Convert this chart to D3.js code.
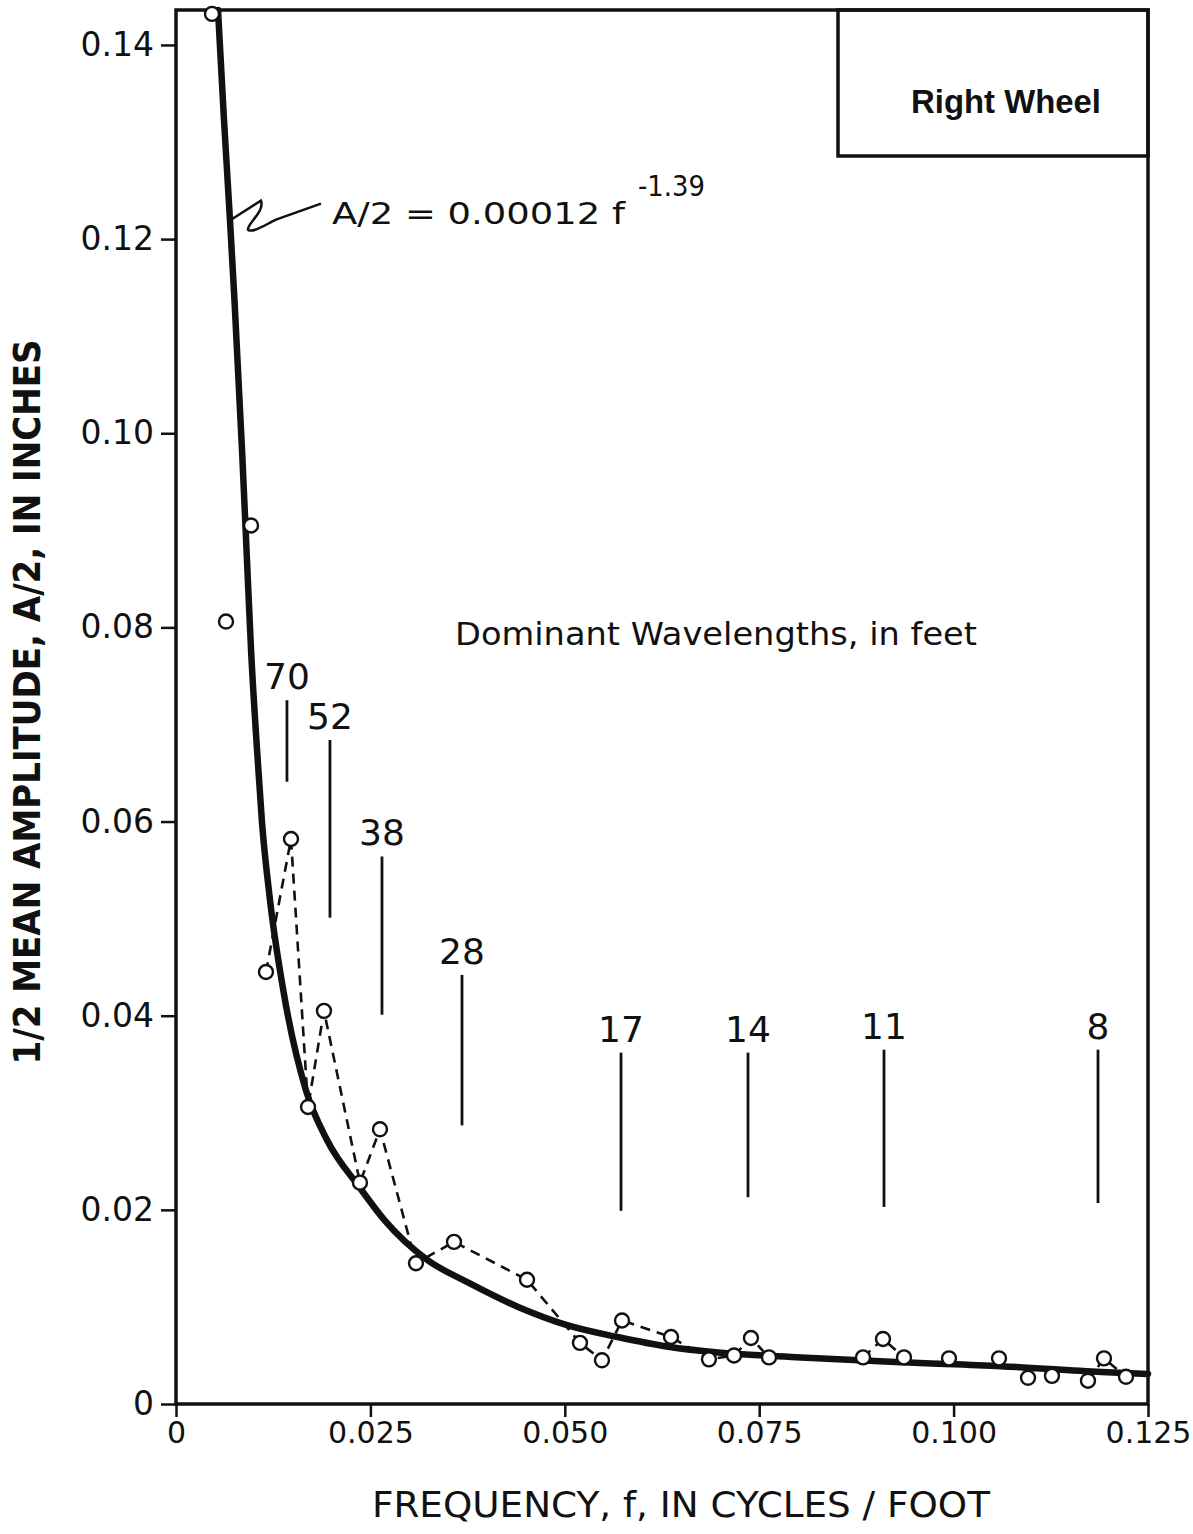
<!DOCTYPE html>
<html>
<head>
<meta charset="utf-8">
<script src="https://cdn.jsdelivr.net/npm/d3@7"></script>
<style>
  body { margin:0; background:#fff; }
  svg { display:block; }
  text { fill:#111; }
</style>
</head>
<body>
<div id="chart"></div>
<script>
// measured points (frequency in cycles/foot, half amplitude in inches)
var freq = [0.00463,0.00643,0.00965,0.01157,0.01479,0.01698,0.01903,0.02366,0.02623,0.03086,
            0.03575,0.04514,0.05195,0.05478,0.05736,0.06366,0.06854,0.07176,0.07394,0.07626,
            0.08835,0.09092,0.09362,0.09941,0.10584,0.10957,0.11265,0.11728,0.11934,0.12217];
var amp  = [0.1432,0.0806,0.0905,0.0445,0.0582,0.0306,0.0405,0.0228,0.0283,0.0145,
            0.0167,0.0128,0.0063,0.0045,0.0086,0.0069,0.0046,0.0050,0.0068,0.0048,
            0.0048,0.0067,0.0048,0.0047,0.0047,0.0027,0.0029,0.0024,0.0047,0.0028];
// index runs joined by the dashed trace
var traceRuns = [[3,19],[20,22],[27,29]];

// fitted curve A/2 = 0.00012 f^-1.39
var fitF = [0.0054,0.00617,0.00694,0.00752,0.00849,0.00913,0.00965,0.01042,0.01106,0.01209,
            0.01402,0.01672,0.01942,0.02353,0.02675,0.0324,0.0376,0.0440,0.0504,0.0568,
            0.0633,0.0697,0.0804,0.0932,0.1061,0.1190,0.125];
var fitA = [0.1436,0.1323,0.1220,0.1137,0.0983,0.0869,0.0777,0.0674,0.0599,0.0519,
            0.0416,0.0323,0.0272,0.0224,0.0190,0.0148,0.0125,0.0100,0.0081,0.0069,
            0.0059,0.0053,0.0048,0.0043,0.0039,0.0033,0.0031];

// dominant wavelength markers
var wlLabels = ["70","52","38","28","17","14","11","8"];
var wlFreq   = [0.01427,0.01980,0.02649,0.03678,0.05723,0.07356,0.09105,0.11857];
var wlTop    = [0.0725,0.0684,0.0564,0.0442,0.0362,0.0362,0.0365,0.0365];
var wlBottom = [0.0641,0.0501,0.0401,0.0287,0.0199,0.0213,0.0203,0.0207];

var xTicks = [0,0.025,0.05,0.075,0.1,0.125];
var xTickLabels = ["0","0.025","0.050","0.075","0.100","0.125"];
var yTicks = [0,0.02,0.04,0.06,0.08,0.10,0.12,0.14];
var yTickLabels = ["0","0.02","0.04","0.06","0.08","0.10","0.12","0.14"];

var W = 1193, H = 1534;
var margin = {top:10, left:176, right:45, bottom:130};
var font = "'DejaVu Sans', sans-serif";

var svg = d3.select("#chart").append("svg").attr("width",W).attr("height",H);

var x = d3.scaleLinear().domain([0,0.125]).range([margin.left, W-margin.right]);
var y = d3.scaleLinear().domain([0,0.1436]).range([H-margin.bottom, margin.top]);

//axes
var gx = svg.append("g").attr("transform","translate(0,"+y(0)+")")
  .call(d3.axisBottom(x).tickValues(xTicks).tickFormat(function(d,i){ return xTickLabels[i]; })
    .tickSize(13).tickPadding(5));
var gy = svg.append("g").attr("transform","translate("+x(0)+",0)")
  .call(d3.axisLeft(y).tickValues(yTicks).tickFormat(function(d,i){ return yTickLabels[i]; })
    .tickSize(15).tickPadding(7));
[gx,gy].forEach(function(g){
  g.select(".domain").remove();
  g.selectAll("line").attr("stroke","#111").attr("stroke-width",2.5);
  g.selectAll("text").attr("font-family",font).attr("font-size",33).attr("fill","#111");
});
gx.selectAll("text").attr("font-size",30);

// frame
svg.append("rect").attr("x",x(0)).attr("y",y(0.1436))
  .attr("width",x(0.125)-x(0)).attr("height",y(0)-y(0.1436))
  .attr("fill","none").attr("stroke","#111").attr("stroke-width",3.5);

// legend box
var bx = x(0.125)-310, by = y(0.1436);
svg.append("rect").attr("x",bx).attr("y",by).attr("width",310).attr("height",146)
  .attr("fill","none").attr("stroke","#111").attr("stroke-width",3.5);
svg.append("text").attr("x",bx+168).attr("y",by+103).attr("text-anchor","middle")
  .attr("font-family","'Liberation Sans', Arial, sans-serif").attr("font-weight","bold")
  .attr("font-size",33).attr("textLength",190).attr("lengthAdjust","spacingAndGlyphs")
  .text("Right Wheel");

// wavelength markers
var wl = wlLabels.map(function(l,i){ return {label:l,f:wlFreq[i],top:wlTop[i],bot:wlBottom[i]}; });
svg.append("g").selectAll("line").data(wl).enter().append("line")
  .attr("x1",function(d){ return x(d.f); }).attr("x2",function(d){ return x(d.f); })
  .attr("y1",function(d){ return y(d.top); }).attr("y2",function(d){ return y(d.bot); })
  .attr("stroke","#111").attr("stroke-width",2.8);
svg.append("g").selectAll("text").data(wl).enter().append("text")
  .attr("x",function(d){ return x(d.f); }).attr("y",function(d){ return y(d.top)-11; })
  .attr("text-anchor","middle").attr("font-family",font).attr("font-size",36)
  .text(function(d){ return d.label; });

svg.append("text").attr("x",455).attr("y",645)
  .attr("font-family",font).attr("font-size",32)
  .attr("textLength",522).attr("lengthAdjust","spacingAndGlyphs")
  .text("Dominant Wavelengths, in feet");

// dashed trace between measured points
var pts = freq.map(function(f,i){ return {f:f,a:amp[i]}; });
var line = d3.line().x(function(d){ return x(d.f); }).y(function(d){ return y(d.a); });
traceRuns.forEach(function(r){
  svg.append("path").datum(pts.slice(r[0],r[1]+1)).attr("d",line)
    .attr("fill","none").attr("stroke","#111").attr("stroke-width",2.6)
    .attr("stroke-dasharray","10,7");
});

// fitted curve
var fit = fitF.map(function(f,i){ return {f:f,a:fitA[i]}; });
svg.append("path").datum(fit)
  .attr("d",d3.line().curve(d3.curveMonotoneX).x(function(d){ return x(d.f); }).y(function(d){ return y(d.a); }))
  .attr("fill","none").attr("stroke","#111").attr("stroke-width",6.5).attr("stroke-linecap","round");

// points
svg.append("g").selectAll("circle").data(pts).enter().append("circle")
  .attr("cx",function(d){ return x(d.f); }).attr("cy",function(d){ return y(d.a); })
  .attr("r",7).attr("fill","#fff").attr("stroke","#111").attr("stroke-width",2.4);

// equation + leader
var lx = x(0.00707), ly = y(0.1220);
svg.append("path")
  .attr("d","M"+lx+","+ly+" L"+(lx+30)+","+(ly-19)+" C"+(lx+34)+","+(ly-8)+" "+(lx+16)+","+(ly+4)+" "+(lx+17)+","+(ly+10)
    +" C"+(lx+22)+","+(ly+14)+" "+(lx+36)+","+(ly+4)+" "+(lx+45)+","+(ly)+" L"+(lx+90)+","+(ly-16))
  .attr("fill","none").attr("stroke","#111").attr("stroke-width",2.5);
svg.append("text").attr("x",332).attr("y",224)
  .attr("font-family",font).attr("font-size",31)
  .attr("textLength",293).attr("lengthAdjust","spacingAndGlyphs")
  .text("A/2 = 0.00012 f");
svg.append("text").attr("x",638).attr("y",196)
  .attr("font-family",font).attr("font-size",29)
  .attr("textLength",67).attr("lengthAdjust","spacingAndGlyphs")
  .text("-1.39");

// axis titles
svg.append("text").attr("x",681).attr("y",1517).attr("text-anchor","middle")
  .attr("font-family",font).attr("font-size",35)
  .attr("textLength",618).attr("lengthAdjust","spacingAndGlyphs")
  .text("FREQUENCY, f, IN CYCLES / FOOT");
svg.append("text").attr("transform","translate(40,702) rotate(-90)").attr("text-anchor","middle")
  .attr("font-family","'DejaVu Sans Condensed', 'DejaVu Sans', sans-serif").attr("font-weight","bold")
  .attr("font-size",37)
  .attr("textLength",725).attr("lengthAdjust","spacingAndGlyphs")
  .text("1/2 MEAN AMPLITUDE, A/2, IN INCHES");
</script>
</body>
</html>
